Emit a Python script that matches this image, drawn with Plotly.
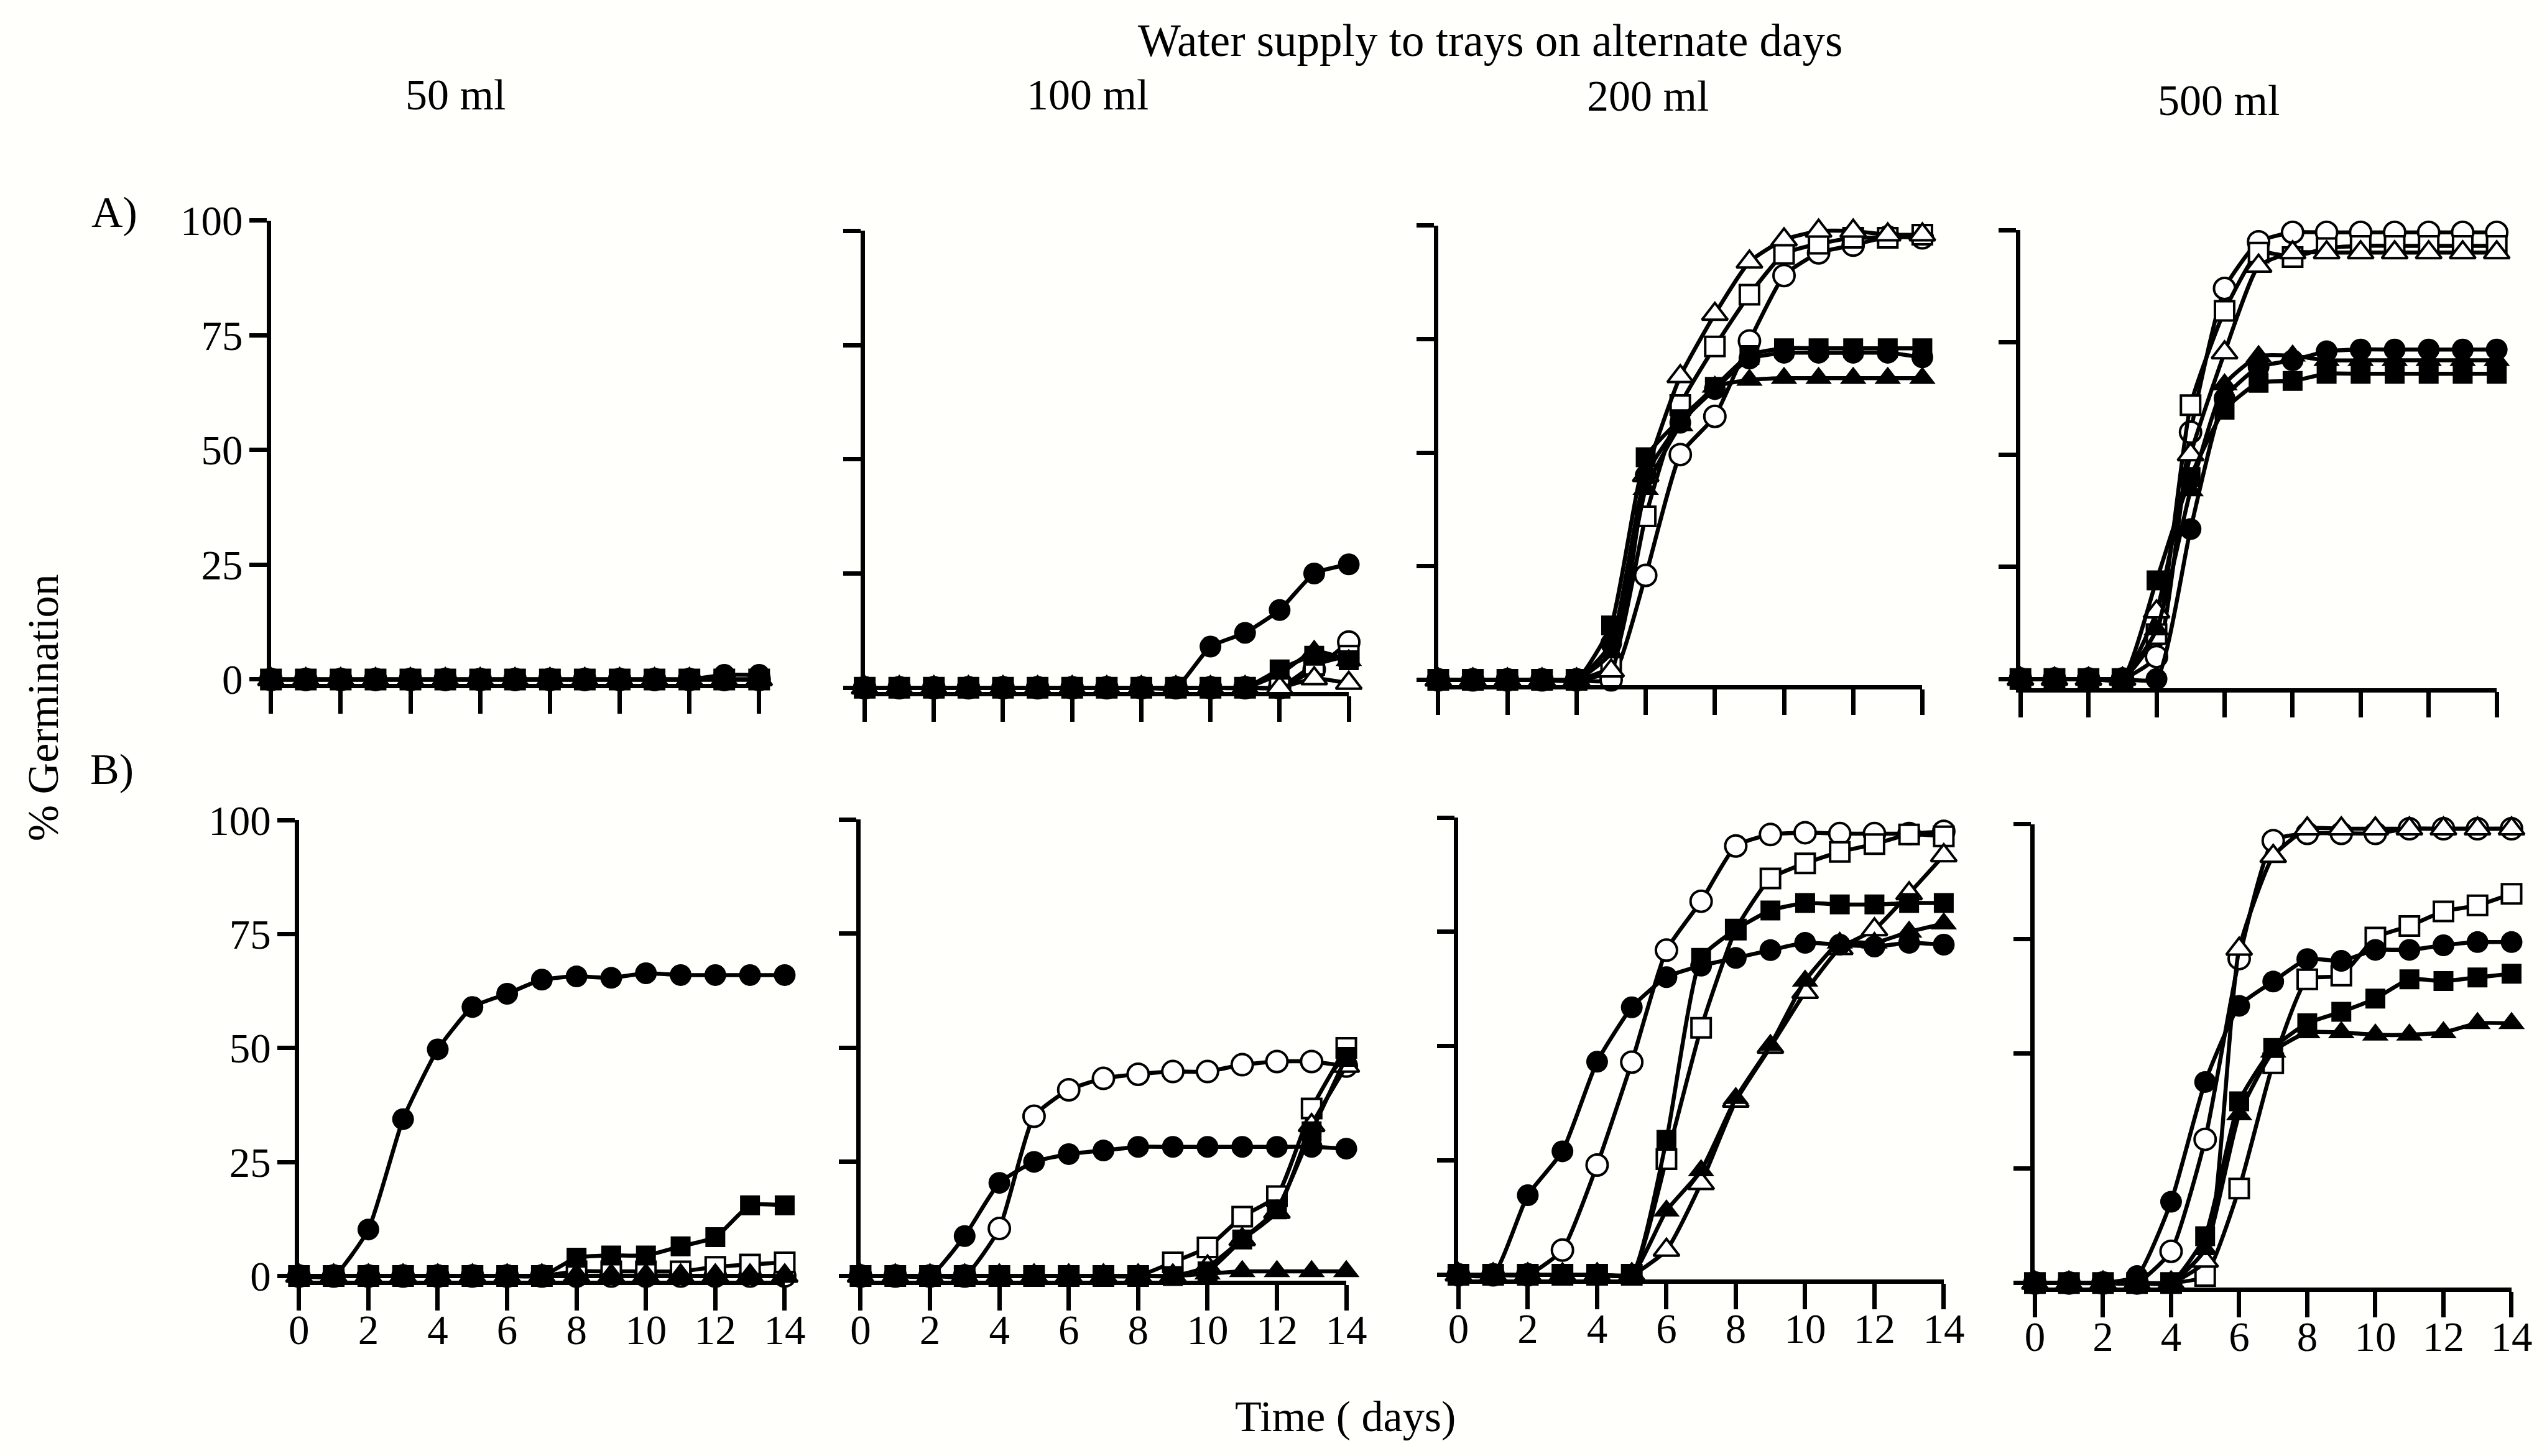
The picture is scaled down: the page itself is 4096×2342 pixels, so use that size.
import plotly.graph_objects as go

# ---------------- data ----------------
days = list(range(15))
x_ticks = [0, 2, 4, 6, 8, 10, 12, 14]
y_ticks = [0, 25, 50, 75, 100]
col_titles = ["50 ml", "100 ml", "200 ml", "500 ml"]

# Row A) ; fc = filled circle, oc = open circle, fs = filled square,
# os = open square, ft = filled triangle, ot = open triangle
A50_fc = [0, 0, 0, 0, 0, 0, 0, 0, 0, 0, 0, 0, 0, 1, 1]
A50_oc = [0, 0, 0, 0, 0, 0, 0, 0, 0, 0, 0, 0, 0, 0, 0]
A50_fs = [0, 0, 0, 0, 0, 0, 0, 0, 0, 0, 0, 0, 0, 0, 0]
A50_os = [0, 0, 0, 0, 0, 0, 0, 0, 0, 0, 0, 0, 0, 0, 0]
A50_ft = [0, 0, 0, 0, 0, 0, 0, 0, 0, 0, 0, 0, 0, 0, 0]
A50_ot = [0, 0, 0, 0, 0, 0, 0, 0, 0, 0, 0, 0, 0, 0, 0]

A100_fc = [0, 0, 0, 0, 0, 0, 0, 0, 0, 0, 9, 12, 17, 25, 27]
A100_oc = [0, 0, 0, 0, 0, 0, 0, 0, 0, 0, 0, 0, 0, 4, 10]
A100_fs = [0, 0, 0, 0, 0, 0, 0, 0, 0, 0, 0, 0, 4, 7, 6]
A100_os = [0, 0, 0, 0, 0, 0, 0, 0, 0, 0, 0, 0, 0, 5, 7]
A100_ft = [0, 0, 0, 0, 0, 0, 0, 0, 0, 0, 0, 0, 3, 8, 6]
A100_ot = [0, 0, 0, 0, 0, 0, 0, 0, 0, 0, 0, 0, 0, 2, 1]

A200_fc = [0, 0, 0, 0, 0, 8, 45, 56.6, 64, 70.7, 72, 72, 72, 72, 71]
A200_oc = [0, 0, 0, 0, 0, 0, 23, 49.6, 58, 74.6, 89, 94, 95.7, 97.5, 97.3]
A200_fs = [0, 0, 0, 0, 0, 12, 49, 57.4, 64.5, 71.5, 73, 73, 73, 73, 73]
A200_os = [0, 0, 0, 0, 0, 3, 36, 60.5, 73.4, 84.8, 93.8, 96, 97.3, 97.3, 98]
A200_ft = [0, 0, 0, 0, 0, 6, 42, 56, 64.5, 66, 66.4, 66.4, 66.4, 66.4, 66.4]
A200_ot = [0, 0, 0, 0, 0, 2, 45, 66.8, 80.5, 92, 96.9, 98.8, 98.8, 98, 98]

A500_fc = [0, 0, 0, 0, 0, 33.4, 62.5, 69.5, 71, 73, 73.4, 73.4, 73.4, 73.4, 73.4]
A500_oc = [0, 0, 0, 0, 5, 55, 87, 97.4, 99.5, 99.5, 99.5, 99.5, 99.5, 99.5, 99.5]
A500_fs = [0, 0, 0, 0, 22, 45, 60, 66, 66.4, 68, 68, 68, 68, 68, 68]
A500_os = [0, 0, 0, 0, 10, 61, 82, 95, 94, 96, 96.5, 96.5, 96.5, 96.5, 96.5]
A500_ft = [0, 0, 0, 0, 11, 42, 65.6, 71.9, 72, 71, 71, 71, 71, 71, 71]
A500_ot = [0, 0, 0, 0, 15, 50, 72.7, 92, 95, 95, 95, 95, 95, 95, 95]

# Row B)
B50_fc = [0, 0, 10.2, 34.4, 49.7, 59, 61.9, 65, 65.7, 65.4, 66.4, 66, 66, 66, 66]
B50_oc = [0, 0, 0, 0, 0, 0, 0, 0, 0, 0, 0, 0, 0, 0, 0]
B50_fs = [0, 0, 0, 0, 0, 0, 0, 0, 4, 4.5, 4.5, 6.5, 8.5, 15.5, 15.5]
B50_os = [0, 0, 0, 0, 0, 0, 0, 0, 1, 1, 1, 1, 2, 2.5, 3]
B50_ft = [0, 0, 0, 0, 0, 0, 0, 0, 0, 0, 0, 0, 0, 0, 0]
B50_ot = [0, 0, 0, 0, 0, 0, 0, 0, 0, 0, 0, 0, 0, 0, 0]

B100_fc = [0, 0, 0, 8.75, 20.4, 25, 26.7, 27.5, 28.3, 28.3, 28.3, 28.3, 28.3, 28.3, 27.9]
B100_oc = [0, 0, 0, 0, 10.4, 35, 40.8, 43.3, 44.2, 44.8, 44.8, 46.3, 47, 47, 46]
B100_fs = [0, 0, 0, 0, 0, 0, 0, 0, 0, 0, 1, 8, 14.6, 31.7, 48]
B100_os = [0, 0, 0, 0, 0, 0, 0, 0, 0, 3, 6.25, 13, 17.5, 36.7, 50]
B100_ft = [0, 0, 0, 0, 0, 0, 0, 0, 0, 0, 0.5, 1, 1, 1, 1]
B100_ot = [0, 0, 0, 0, 0, 0, 0, 0, 0, 0, 2, 8, 14, 33, 46]

B200_fc = [0, 0, 17.4, 27, 46.6, 58.5, 65.1, 67.6, 69.3, 71, 72.6, 72.2, 71.8, 72.6, 72.2]
B200_oc = [0, 0, 0, 5.4, 24, 46.5, 71, 81.7, 93.8, 96.3, 96.7, 96.5, 96.5, 96.5, 97]
B200_fs = [0, 0, 0, 0, 0, 0, 29.5, 69.3, 75.5, 79.7, 81.3, 81, 81, 81.3, 81.3]
B200_os = [0, 0, 0, 0, 0, 0, 25.3, 54, 75.5, 86.7, 90, 92.5, 94.2, 96.3, 95.9]
B200_ft = [0, 0, 0, 0, 0, 0, 14, 22.8, 38.6, 50.2, 64.3, 72.6, 72.6, 75, 76.8]
B200_ot = [0, 0, 0, 0, 0, 0, 5.4, 20, 38, 49.8, 61.8, 71.4, 75.5, 83.4, 91.7]

B500_fc = [0, 0, 0, 1.5, 17.7, 43.8, 60.4, 65.7, 70.6, 70.2, 72.6, 72.6, 73.6, 74.3, 74.3]
B500_oc = [0, 0, 0, 0, 6.9, 31.3, 70.7, 96.4, 98, 98, 98, 99, 99, 99, 99]
B500_fs = [0, 0, 0, 0, 0, 10.2, 39.6, 51.2, 56.6, 59.1, 62, 66.2, 65.8, 66.6, 67.4]
B500_os = [0, 0, 0, 0, 0, 1.5, 20.6, 47.9, 66.2, 67, 75.3, 77.8, 81, 82.3, 84.8]
B500_ft = [0, 0, 0, 0, 0, 7.3, 36.7, 50.4, 54.6, 54.6, 54.1, 54.1, 54.6, 56.6, 56.6]
B500_ot = [0, 0, 0, 0, 0, 4.8, 72.8, 93, 99, 99, 99, 99, 99, 99, 99]

panels = [
    dict(fc=A50_fc, oc=A50_oc, fs=A50_fs, os=A50_os, ft=A50_ft, ot=A50_ot),
    dict(fc=A100_fc, oc=A100_oc, fs=A100_fs, os=A100_os, ft=A100_ft, ot=A100_ot),
    dict(fc=A200_fc, oc=A200_oc, fs=A200_fs, os=A200_os, ft=A200_ft, ot=A200_ot),
    dict(fc=A500_fc, oc=A500_oc, fs=A500_fs, os=A500_os, ft=A500_ft, ot=A500_ot),
    dict(fc=B50_fc, oc=B50_oc, fs=B50_fs, os=B50_os, ft=B50_ft, ot=B50_ot),
    dict(fc=B100_fc, oc=B100_oc, fs=B100_fs, os=B100_os, ft=B100_ft, ot=B100_ot),
    dict(fc=B200_fc, oc=B200_oc, fs=B200_fs, os=B200_os, ft=B200_ft, ot=B200_ot),
    dict(fc=B500_fc, oc=B500_oc, fs=B500_fs, os=B500_os, ft=B500_ft, ot=B500_ot),
]

# ---------------- styling / layout ----------------
W, H = 4096, 2342
REF_W, REF_H = 6183, 3535
FONT = "Liberation Serif, Times New Roman, serif"
BG = "#fffffb"
LW = 6.5

# the captured page shows the figure slightly inset; compensate for it
AX, SX = 20.9 / W, 0.9866
AY, SY = 31.3 / H, 0.9732


def u_of(xf):
    return (xf / REF_W - AX) / SX


def v_of(yf):
    return 1 - (yf / REF_H - AY) / SY


# draw order: open symbols first, filled symbols on top
SERIES = [
    ("oc", "circle", "white", 34),
    ("os", "square", "white", 31),
    ("ot", "triangle-up", "white", 36),
    ("ft", "triangle-up", "black", 37),
    ("fc", "circle", "black", 35),
    ("fs", "square", "black", 32),
]

# panel frames in reference pixels: x at day 0, x at day 14, y at 100 %, y at 0 %, y-axis minimum
GEOM = [
    (663, 1847, 528, 1644, -1),
    (2103, 3277, 553, 1664, -1),
    (3494, 4668, 540, 1645, -1.2),
    (4906, 6061, 551, 1643, -2),
    (731, 1909, 1986, 3095, -1),
    (2093, 3271, 1985, 3095, -1),
    (3543, 4720, 1980, 3092, -1),
    (4941, 6097, 1996, 3112, -1),
]

TICK_FONT = dict(family=FONT, size=67, color="black")

fig = go.Figure()
layout = dict(
    width=W, height=H, autosize=False,
    margin=dict(l=0, r=0, t=0, b=0, pad=0),
    paper_bgcolor=BG, plot_bgcolor=BG,
    showlegend=False,
    font=dict(family=FONT, color="black"),
)

for i, (data, (gx0, gx1, gy100, gy0, ymin)) in enumerate(zip(panels, GEOM)):
    k = i + 1
    ppu = (gy0 - gy100) / 100.0
    bottom = gy0 - ymin * ppu
    row_b = i >= 4
    first_col = i % 4 == 0
    xa = dict(
        domain=[u_of(gx0), u_of(gx1)],
        range=[0, 14], tickvals=x_ticks, ticktext=[str(v) for v in x_ticks],
        showticklabels=row_b, ticklabelstandoff=-26,
        ticks="outside", ticklen=41, tickwidth=LW, tickcolor="black",
        showline=True, linewidth=LW, linecolor="black",
        showgrid=False, zeroline=False, fixedrange=True,
        tickfont=TICK_FONT,
        anchor="y%d" % k,
    )
    ya = dict(
        domain=[v_of(bottom), v_of(gy100)],
        range=[ymin, 100], tickvals=y_ticks, ticktext=[str(v) for v in y_ticks],
        showticklabels=first_col, ticklabelstandoff=-3,
        ticks="outside", ticklen=28, tickwidth=LW, tickcolor="black",
        showline=True, linewidth=LW, linecolor="black",
        showgrid=False, zeroline=False, fixedrange=True,
        tickfont=TICK_FONT,
        anchor="x%d" % k,
    )
    layout["xaxis" if k == 1 else "xaxis%d" % k] = xa
    layout["yaxis" if k == 1 else "yaxis%d" % k] = ya

    for key, sym, fill, size in SERIES:
        fig.add_trace(go.Scatter(
            x=days, y=data[key],
            xaxis="x%d" % k, yaxis="y%d" % k,
            mode="lines+markers",
            line=dict(color="black", width=LW, shape="spline", smoothing=0.5),
            marker=dict(symbol=sym, size=size, color=fill,
                        line=dict(color="black", width=4 if fill == "white" else 0)),
            cliponaxis=False,
            hoverinfo="skip",
        ))


def ann(text, fx, fy, size=70, angle=0, yanchor="middle", y=None):
    return dict(text=text, x=u_of(fx), y=v_of(fy) if y is None else y,
                xref="paper", yref="paper",
                xanchor="center", yanchor=yanchor, showarrow=False, textangle=angle,
                font=dict(family=FONT, size=size, color="black"))


annotations = [
    ann("Water supply to trays on alternate days", 3620, 75, size=73, yanchor="top", y=1.006),
    ann(col_titles[0], 1111, 222),
    ann(col_titles[1], 2644, 222),
    ann(col_titles[2], 4003, 225),
    ann(col_titles[3], 5386, 236),
    ann("A)", 284, 508),
    ann("B)", 278, 1862),
    ann("% Germination", 112, 1712, angle=-90),
    ann("Time ( days)", 3269, 3470, yanchor="bottom", y=-0.003),
]
layout["annotations"] = annotations
fig.update_layout(**layout)
fig.write_html("out.html")
